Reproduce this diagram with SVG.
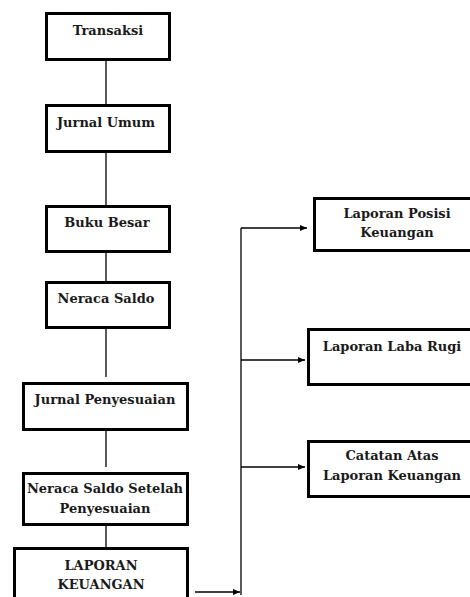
<svg xmlns="http://www.w3.org/2000/svg" width="470" height="597" viewBox="0 0 470 597">
<style>
.box{fill:#fff;stroke:#000;stroke-width:3}
.t{font-family:'DejaVu Serif','Liberation Serif',serif;font-weight:700;font-size:13px;fill:#1a1a1a;text-anchor:middle}
.c{stroke:#000;stroke-width:1.3;fill:none}
</style>
<defs>
<marker id="ah" viewBox="0 0 10 10" refX="10" refY="5" markerWidth="7" markerHeight="6" markerUnits="userSpaceOnUse" orient="auto" preserveAspectRatio="none">
<path d="M0,0 L10,5 L0,10 Z" fill="#000"/>
</marker>
</defs>
<rect width="470" height="597" fill="#fff"/>
<g id="connectors">
<line class="c" x1="106" y1="61" x2="106" y2="104"/>
<line class="c" x1="106" y1="153" x2="106" y2="205"/>
<line class="c" x1="106" y1="253" x2="106" y2="281"/>
<line class="c" x1="106" y1="329" x2="106" y2="377"/>
<line class="c" x1="106" y1="431" x2="106" y2="467"/>
<line class="c" x1="106" y1="526" x2="106" y2="547"/>
<line class="c" x1="195" y1="592" x2="240" y2="592" marker-end="url(#ah)"/>
<line class="c" x1="241" y1="228" x2="241" y2="595"/>
<line class="c" x1="241" y1="228" x2="307" y2="228" marker-end="url(#ah)"/>
<line class="c" x1="241" y1="360" x2="305" y2="360" marker-end="url(#ah)"/>
<line class="c" x1="241" y1="467" x2="305" y2="467" marker-end="url(#ah)"/>
</g>
<g id="n-transaksi"><rect class="box" x="46.5" y="13.5" width="123" height="46"/><text class="t" x="108" y="35">Transaksi</text></g>
<g id="n-jurnal-umum"><rect class="box" x="46.5" y="105.5" width="123" height="46"/><text class="t" x="106" y="127">Jurnal Umum</text></g>
<g id="n-buku-besar"><rect class="box" x="46.5" y="206.5" width="123" height="45"/><text class="t" x="107" y="227">Buku Besar</text></g>
<g id="n-neraca-saldo"><rect class="box" x="46.5" y="282.5" width="123" height="45"/><text class="t" x="106" y="303">Neraca  Saldo</text></g>
<g id="n-jurnal-penyesuaian"><rect class="box" x="23.5" y="383.5" width="164" height="46"/><text class="t" x="105" y="404">Jurnal Penyesuaian</text></g>
<g id="n-neraca-setelah"><rect class="box" x="23.5" y="473.5" width="164" height="51"/><text class="t" x="105" y="493">Neraca  Saldo Setelah</text><text class="t" x="105" y="513">Penyesuaian</text></g>
<g id="n-laporan-keuangan"><rect class="box" x="14.5" y="548.5" width="173" height="60"/><text class="t" x="101" y="570">LAPORAN</text><text class="t" x="101" y="589">KEUANGAN</text></g>
<g id="n-posisi"><rect class="box" x="314.5" y="198.5" width="170" height="52"/><text class="t" x="397" y="218">Laporan Posisi</text><text class="t" x="397" y="237">Keuangan</text></g>
<g id="n-laba-rugi"><rect class="box" x="308.5" y="329.5" width="176" height="55"/><text class="t" x="392" y="351">Laporan Laba Rugi</text></g>
<g id="n-catatan"><rect class="box" x="308.5" y="441.5" width="176" height="55"/><text class="t" x="392" y="460">Catatan Atas</text><text class="t" x="392" y="480">Laporan Keuangan</text></g>
</svg>
